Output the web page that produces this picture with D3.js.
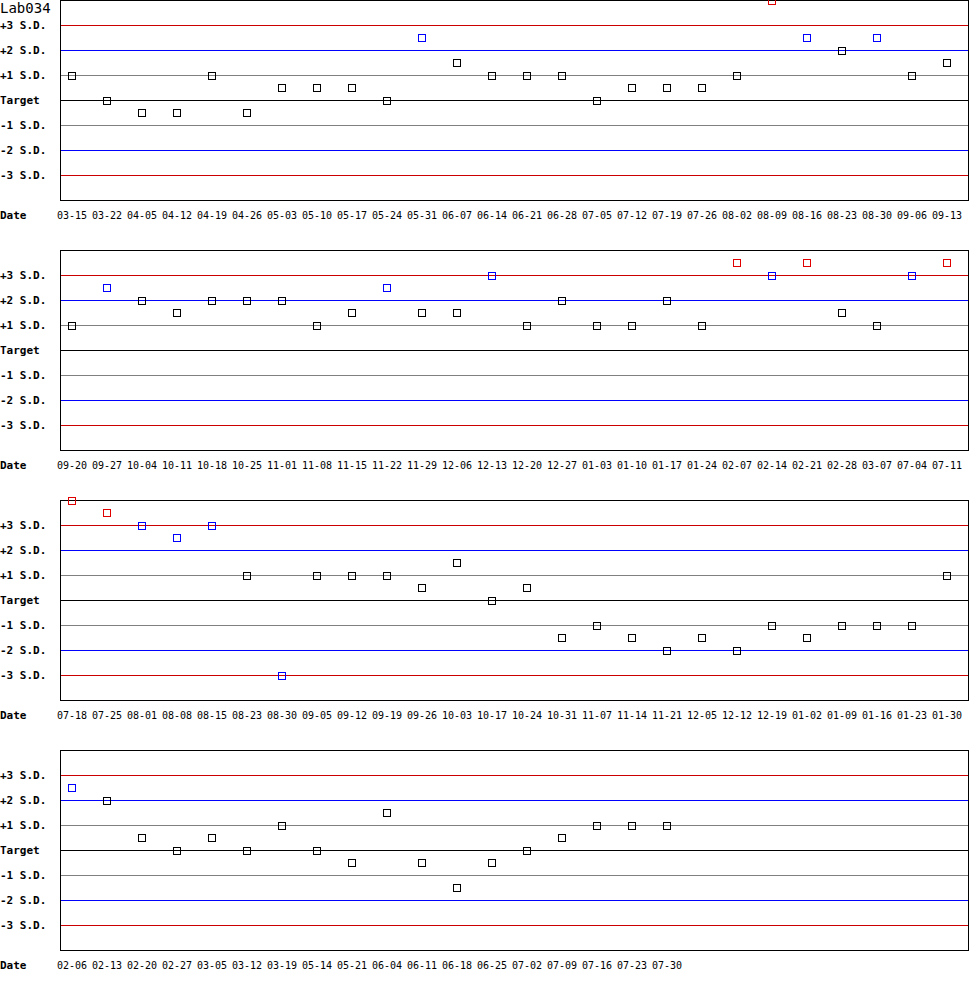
<!DOCTYPE html>
<html>
<head>
<meta charset="utf-8">
<script src="https://cdn.jsdelivr.net/npm/d3@7/dist/d3.min.js"></script>
<style>
  body { margin: 0; background: #fff; }
  text { font-family: "DejaVu Sans Mono", monospace; fill: #000; }
</style>
</head>
<body>
<svg id="chart"></svg>
<script>
var title = "Lab034";

var sdLevels = [3, 2, 1, 0, -1, -2, -3];
var sdLabels = ["+3 S.D.", "+2 S.D.", "+1 S.D.", "Target", "-1 S.D.", "-2 S.D.", "-3 S.D."];
var sdColors = ["#cc0000", "#0000ff", "#808080", "#000000", "#808080", "#0000ff", "#cc0000"];

var dates1 = ["03-15","03-22","04-05","04-12","04-19","04-26","05-03","05-10","05-17","05-24","05-31","06-07","06-14",
              "06-21","06-28","07-05","07-12","07-19","07-26","08-02","08-09","08-16","08-23","08-30","09-06","09-13"];
var values1 = [1, 0, -0.5, -0.5, 1, -0.5, 0.5, 0.5, 0.5, 0, 2.5, 1.5, 1,
               1, 1, 0, 0.5, 0.5, 0.5, 1, 4, 2.5, 2, 2.5, 1, 1.5];

var dates2 = ["09-20","09-27","10-04","10-11","10-18","10-25","11-01","11-08","11-15","11-22","11-29","12-06","12-13",
              "12-20","12-27","01-03","01-10","01-17","01-24","02-07","02-14","02-21","02-28","03-07","07-04","07-11"];
var values2 = [1, 2.5, 2, 1.5, 2, 2, 2, 1, 1.5, 2.5, 1.5, 1.5, 3,
               1, 2, 1, 1, 2, 1, 3.5, 3, 3.5, 1.5, 1, 3, 3.5];

var dates3 = ["07-18","07-25","08-01","08-08","08-15","08-23","08-30","09-05","09-12","09-19","09-26","10-03","10-17",
              "10-24","10-31","11-07","11-14","11-21","12-05","12-12","12-19","01-02","01-09","01-16","01-23","01-30"];
var values3 = [4, 3.5, 3, 2.5, 3, 1, -3, 1, 1, 1, 0.5, 1.5, 0,
               0.5, -1.5, -1, -1.5, -2, -1.5, -2, -1, -1.5, -1, -1, -1, 1];

var dates4 = ["02-06","02-13","02-20","02-27","03-05","03-12","03-19","05-14","05-21","06-04","06-11","06-18","06-25",
              "07-02","07-09","07-16","07-23","07-30"];
var values4 = [2.5, 2, 0.5, 0, 0.5, 0, 1, 0, -0.5, 1.5, -0.5, -1.5, -0.5,
               0, 0.5, 1, 1, 1];

var panels = [
    {dates: dates1, values: values1},
    {dates: dates2, values: values2},
    {dates: dates3, values: values3},
    {dates: dates4, values: values4}
];

var width = 970, height = 1000;
var panelStep = 250, plotH = 200;
var margin = {left: 60, right: 1};
var slots = 26;

var svg = d3.select("#chart")
    .attr("width", width)
    .attr("height", height);

var x = d3.scaleLinear().domain([0, slots - 1]).range([72, 72 + 35 * (slots - 1)]);
var y = d3.scaleLinear().domain([-4, 4]).range([plotH, 0]);

function markColor(v) {
    if (Math.abs(v) > 3) return "#e00000";
    if (Math.abs(v) > 2) return "#0000ff";
    return "#000000";
}

panels.forEach(function(p, k) {
    var g = svg.append("g")
        .attr("transform", "translate(0," + (k * panelStep) + ")");

    // control lines
    g.selectAll("line.sd")
        .data(sdLevels)
        .enter().append("line")
        .attr("class", "sd")
        .attr("x1", margin.left)
        .attr("x2", width - margin.right)
        .attr("y1", function(d) { return y(d) + 0.5; })
        .attr("y2", function(d) { return y(d) + 0.5; })
        .attr("stroke", function(d, i) { return sdColors[i]; })
        .attr("stroke-width", 1)
        .attr("shape-rendering", "crispEdges");

    // frame
    g.append("rect")
        .attr("x", margin.left + 0.5)
        .attr("y", 0.5)
        .attr("width", width - margin.right - margin.left - 1)
        .attr("height", plotH)
        .attr("fill", "none")
        .attr("stroke", "#000")
        .attr("shape-rendering", "crispEdges");

    // labels on the left
    g.selectAll("text.sd")
        .data(sdLevels)
        .enter().append("text")
        .attr("class", "sd")
        .attr("x", 0)
        .attr("y", function(d) { return y(d) + 4; })
        .attr("font-size", 11)
        .attr("font-weight", "bold")
        .text(function(d, i) { return sdLabels[i]; });

    g.append("text")
        .attr("x", 0)
        .attr("y", 219)
        .attr("font-size", 11)
        .attr("font-weight", "bold")
        .text("Date");

    // date ticks
    g.selectAll("text.date")
        .data(p.dates)
        .enter().append("text")
        .attr("class", "date")
        .attr("x", function(d, i) { return x(i); })
        .attr("y", 219)
        .attr("text-anchor", "middle")
        .attr("font-size", 10)
        .text(function(d) { return d; });

    // points
    g.selectAll("rect.pt")
        .data(p.values)
        .enter().append("rect")
        .attr("class", "pt")
        .attr("x", function(d, i) { return x(i) - 3.5; })
        .attr("y", function(d) { return y(d) - 3; })
        .attr("width", 7)
        .attr("height", 7)
        .attr("fill", "none")
        .attr("stroke", markColor)
        .attr("shape-rendering", "crispEdges");
});

svg.append("text")
    .attr("x", 0)
    .attr("y", 13)
    .attr("font-size", 14)
    .text(title);
</script>
</body>
</html>
